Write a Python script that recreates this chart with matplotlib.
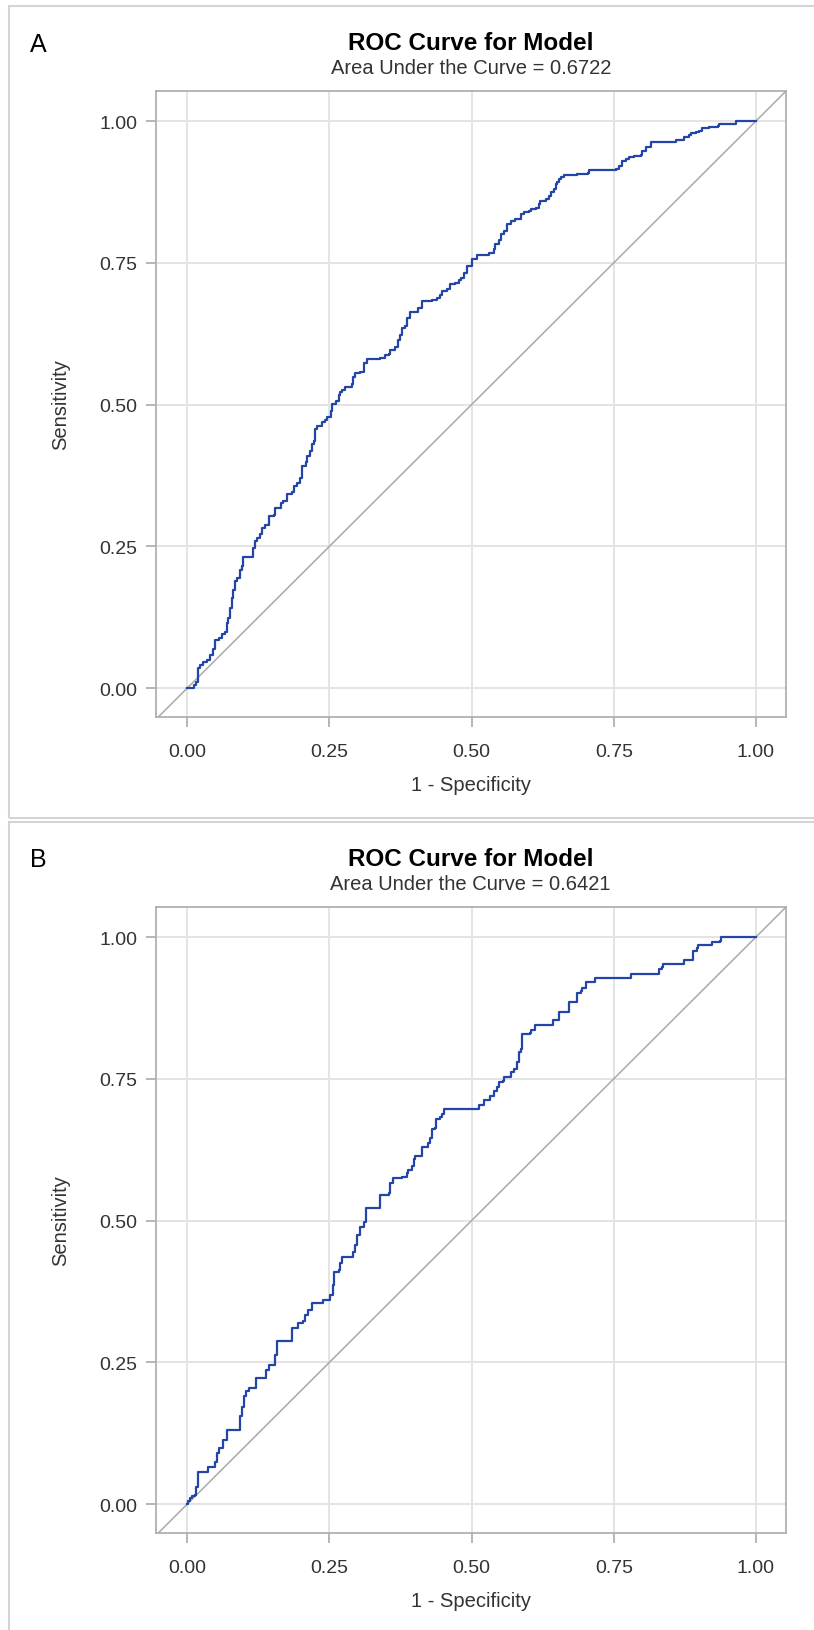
import matplotlib
matplotlib.use("Agg")
import matplotlib.pyplot as plt
from matplotlib.patches import Rectangle

# ---------------- data ----------------
fpr_a = [0.000, 0.011, 0.016, 0.018, 0.022, 0.028, 0.034, 0.040, 0.046, 0.049,
         0.055, 0.061, 0.066, 0.069, 0.072, 0.075, 0.078, 0.081, 0.084, 0.087,
         0.092, 0.096, 0.098, 0.116, 0.116, 0.119, 0.122, 0.128, 0.131, 0.137,
         0.143, 0.152, 0.155, 0.164, 0.169, 0.175, 0.184, 0.187, 0.193, 0.199,
         0.202, 0.208, 0.211, 0.216, 0.219, 0.222, 0.225, 0.228, 0.237, 0.243,
         0.246, 0.252, 0.255, 0.261, 0.266, 0.269, 0.272, 0.278, 0.289, 0.292,
         0.295, 0.304, 0.310, 0.316, 0.339, 0.348, 0.354, 0.357, 0.365, 0.371,
         0.374, 0.377, 0.383, 0.386, 0.392, 0.401, 0.406, 0.412, 0.421, 0.430,
         0.439, 0.445, 0.448, 0.456, 0.462, 0.471, 0.477, 0.481, 0.486, 0.492,
         0.501, 0.510, 0.525, 0.531, 0.539, 0.542, 0.548, 0.551, 0.557, 0.563,
         0.569, 0.577, 0.586, 0.592, 0.601, 0.604, 0.613, 0.619, 0.621, 0.630,
         0.636, 0.639, 0.645, 0.648, 0.651, 0.654, 0.657, 0.663, 0.680, 0.686,
         0.704, 0.707, 0.739, 0.754, 0.759, 0.765, 0.771, 0.777, 0.786, 0.798,
         0.800, 0.806, 0.815, 0.856, 0.859, 0.871, 0.874, 0.883, 0.886, 0.894,
         0.900, 0.906, 0.918, 0.933, 0.935, 0.962, 0.965, 1.000]
tpr_a = [0.000, 0.005, 0.011, 0.035, 0.040, 0.046, 0.049, 0.058, 0.069, 0.085,
         0.089, 0.096, 0.099, 0.114, 0.123, 0.141, 0.158, 0.173, 0.188, 0.194,
         0.209, 0.215, 0.232, 0.232, 0.247, 0.259, 0.265, 0.271, 0.283, 0.288,
         0.303, 0.306, 0.318, 0.327, 0.330, 0.342, 0.345, 0.356, 0.362, 0.371,
         0.392, 0.398, 0.410, 0.418, 0.430, 0.436, 0.457, 0.463, 0.469, 0.472,
         0.478, 0.489, 0.501, 0.507, 0.516, 0.522, 0.525, 0.531, 0.537, 0.549,
         0.556, 0.558, 0.573, 0.580, 0.582, 0.587, 0.590, 0.596, 0.602, 0.614,
         0.623, 0.635, 0.638, 0.652, 0.664, 0.664, 0.670, 0.682, 0.682, 0.685,
         0.688, 0.694, 0.700, 0.703, 0.712, 0.715, 0.720, 0.723, 0.732, 0.744,
         0.756, 0.763, 0.763, 0.768, 0.774, 0.783, 0.791, 0.800, 0.806, 0.818,
         0.824, 0.827, 0.836, 0.839, 0.842, 0.845, 0.846, 0.853, 0.859, 0.862,
         0.868, 0.874, 0.881, 0.889, 0.892, 0.898, 0.902, 0.905, 0.905, 0.907,
         0.908, 0.914, 0.914, 0.915, 0.921, 0.930, 0.933, 0.936, 0.939, 0.940,
         0.948, 0.954, 0.963, 0.963, 0.966, 0.966, 0.972, 0.975, 0.979, 0.980,
         0.983, 0.988, 0.989, 0.992, 0.995, 0.995, 1.000, 1.000]

fpr_b = [0.000, 0.002, 0.005, 0.009, 0.013, 0.015, 0.018, 0.034, 0.037, 0.047,
         0.049, 0.053, 0.055, 0.060, 0.063, 0.066, 0.070, 0.091, 0.093, 0.096,
         0.099, 0.104, 0.109, 0.119, 0.120, 0.137, 0.138, 0.144, 0.151, 0.154,
         0.157, 0.158, 0.182, 0.184, 0.192, 0.195, 0.204, 0.207, 0.213, 0.219,
         0.236, 0.238, 0.245, 0.251, 0.256, 0.258, 0.266, 0.269, 0.272, 0.289,
         0.292, 0.295, 0.299, 0.304, 0.311, 0.314, 0.336, 0.339, 0.354, 0.357,
         0.362, 0.377, 0.386, 0.389, 0.395, 0.398, 0.401, 0.409, 0.412, 0.421,
         0.424, 0.427, 0.430, 0.436, 0.438, 0.445, 0.448, 0.452, 0.510, 0.513,
         0.521, 0.522, 0.531, 0.532, 0.538, 0.539, 0.545, 0.548, 0.556, 0.557,
         0.569, 0.570, 0.575, 0.579, 0.580, 0.583, 0.586, 0.588, 0.603, 0.604,
         0.611, 0.642, 0.644, 0.652, 0.654, 0.670, 0.671, 0.685, 0.686, 0.693,
         0.695, 0.701, 0.715, 0.717, 0.780, 0.781, 0.827, 0.830, 0.834, 0.836,
         0.873, 0.874, 0.886, 0.889, 0.896, 0.898, 0.920, 0.922, 0.937, 0.938,
         1.000]
tpr_b = [0.000, 0.005, 0.011, 0.014, 0.016, 0.031, 0.056, 0.056, 0.065, 0.065,
         0.075, 0.090, 0.099, 0.099, 0.113, 0.113, 0.131, 0.131, 0.155, 0.172,
         0.190, 0.199, 0.204, 0.204, 0.222, 0.222, 0.237, 0.246, 0.246, 0.263,
         0.278, 0.288, 0.288, 0.310, 0.310, 0.319, 0.322, 0.334, 0.343, 0.354,
         0.354, 0.360, 0.360, 0.369, 0.387, 0.410, 0.413, 0.425, 0.435, 0.435,
         0.445, 0.457, 0.475, 0.489, 0.498, 0.523, 0.523, 0.545, 0.548, 0.566,
         0.575, 0.577, 0.584, 0.590, 0.596, 0.608, 0.614, 0.614, 0.629, 0.629,
         0.637, 0.645, 0.661, 0.664, 0.679, 0.682, 0.688, 0.697, 0.697, 0.703,
         0.703, 0.712, 0.712, 0.720, 0.720, 0.729, 0.735, 0.744, 0.747, 0.753,
         0.753, 0.762, 0.768, 0.771, 0.780, 0.797, 0.803, 0.829, 0.830, 0.836,
         0.845, 0.845, 0.854, 0.854, 0.868, 0.868, 0.886, 0.886, 0.901, 0.904,
         0.911, 0.921, 0.921, 0.927, 0.927, 0.935, 0.935, 0.944, 0.948, 0.953,
         0.953, 0.959, 0.959, 0.976, 0.980, 0.986, 0.986, 0.992, 0.993, 1.000,
         1.000]

panel_letters = ["A", "B"]
auc_values = ["0.6722", "0.6421"]
tick_values = [0.0, 0.25, 0.5, 0.75, 1.0]
tick_labels = ["0.00", "0.25", "0.50", "0.75", "1.00"]
title_text = "ROC Curve for Model"
x_label = "1 - Specificity"
y_label = "Sensitivity"

# ---------------- styling ----------------
plt.rcParams['font.family'] = ['Liberation Sans', 'DejaVu Sans']
W, H = 814, 1631
fig = plt.figure(figsize=(W / 100, H / 100), dpi=100)
fig.patch.set_facecolor("white")

CURVE = "#2445A8"
DIAG = "#A9A9A9"
GRID = "#E4E4E4"
SPINE = "#A7ACB1"
TXT = "#333333"
FRAME = "#D4D4D4"


def fx(px):
    return px / W


def fy(py):
    return 1 - py / H


panel_data = [(fpr_a, tpr_a), (fpr_b, tpr_b)]
OFF = 816

for i, (fpr, tpr) in enumerate(panel_data):
    off = i * OFF
    top, bottom = 92 + off, 718 + off
    left, right = 156, 785.5

    # light panel frame
    if i == 0:
        fig.add_artist(Rectangle((fx(9), fy(819)), fx(900) - fx(9), (819 - 7) / H,
                                 transform=fig.transFigure, fill=False,
                                 ec=FRAME, lw=1.5))
    else:
        fig.add_artist(Rectangle((fx(9), fy(1700)), fx(900) - fx(9), (1700 - 823) / H,
                                 transform=fig.transFigure, fill=False,
                                 ec=FRAME, lw=1.5))

    ax = fig.add_axes([fx(left), fy(bottom), (right - left) / W, (bottom - top) / H])
    ax.set_xlim(-0.055, 1.052)
    ax.set_ylim(-0.051, 1.053)

    ax.set_xticks(tick_values)
    ax.set_xticklabels(tick_labels)
    ax.set_yticks(tick_values)
    ax.set_yticklabels(tick_labels)
    ax.grid(True, color=GRID, lw=1.4, zorder=0)
    ax.set_axisbelow(True)

    for sp in ax.spines.values():
        sp.set_color(SPINE)
        sp.set_linewidth(1.2)
    ax.tick_params(axis='both', colors=SPINE, labelcolor=TXT, labelsize=14,
                   length=7.5, width=1.2, direction='out')
    ax.tick_params(axis='x', pad=11)
    ax.tick_params(axis='y', pad=6)

    ax.plot([-0.1, 1.1], [-0.1, 1.1], color=DIAG, lw=1.1, zorder=2)
    ax.plot(fpr, tpr, color=CURVE, lw=1.6, drawstyle='steps-post', zorder=3)

    ax.set_xlabel(x_label, fontsize=14.5, color=TXT)
    ax.xaxis.set_label_coords(0.5, (718 - 786) / 626)
    ax.xaxis.label.set_va('center')
    ax.set_ylabel(y_label, fontsize=14.5, color=TXT)
    ax.yaxis.set_label_coords((60.5 - 156) / 629.5, 0.5)
    ax.yaxis.label.set_va('center')

    cx = fx((left + right) / 2)
    fig.text(cx, fy(50 + off), title_text, ha='center', va='baseline',
             fontsize=17.5, fontweight='bold', color='black')
    fig.text(cx, fy(74 + off), f"Area Under the Curve = {auc_values[i]}",
             ha='center', va='baseline', fontsize=14.5, color=TXT)
    fig.text(fx(38), fy(51.5 + off), panel_letters[i], ha='center', va='baseline',
             fontsize=18, color='black')

fig.savefig("out.png", dpi=100, facecolor="white")
